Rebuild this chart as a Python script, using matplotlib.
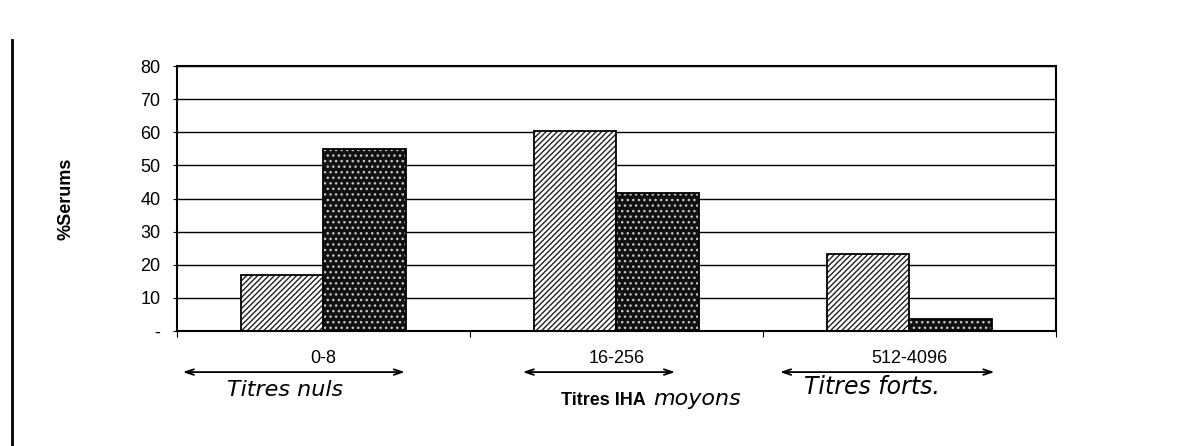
import numpy as np
import matplotlib
matplotlib.use("Agg")
import matplotlib.pyplot as plt
from matplotlib.lines import Line2D

# donnees
categories = ["0-8", "16-256", "512-4096"]
serie_hachuree = [17, 60.5, 23.3]
serie_sombre = [55, 41.7, 3.6]
yticks = [0, 10, 20, 30, 40, 50, 60, 70, 80]
ytick_labels = ["-", "10", "20", "30", "40", "50", "60", "70", "80"]

plt.rcParams['font.family'] = ['Liberation Sans', 'DejaVu Sans']
plt.rcParams['hatch.linewidth'] = 1.0

fig = plt.figure(figsize=(11.94, 4.46), dpi=100)
ax = fig.add_axes([0.1482, 0.2578, 0.7362, 0.594])

x = np.arange(len(categories))
w = 0.283

# grille horizontale
for v in yticks[1:]:
    ax.axhline(v, color='black', lw=1.0, zorder=1)

# serie hachuree
ax.bar(x - w / 2, serie_hachuree, w, color='white', edgecolor='#222222',
       hatch='//////', lw=0, zorder=2)
ax.bar(x - w / 2, serie_hachuree, w, color='none', edgecolor='black',
       lw=1.3, zorder=3)

# serie sombre (grain)
ax.bar(x + w / 2, serie_sombre, w, color='#111111', edgecolor='#c8c8c8',
       hatch='...', lw=0, zorder=2)
ax.bar(x + w / 2, serie_sombre, w, color='none', edgecolor='black',
       lw=1.3, zorder=3)

ax.set_xlim(-0.5, 2.5)
ax.set_ylim(0, 80)
ax.set_yticks(yticks)
ax.set_yticklabels(ytick_labels, fontsize=13)
ax.tick_params(axis='y', length=3, width=0.8, pad=9)

ax.set_xticks(x)
ax.set_xticklabels(categories, fontsize=13)
ax.tick_params(axis='x', length=0, pad=14)
ax.set_xticks([-0.5, 0.5, 1.5, 2.5], minor=True)
ax.tick_params(axis='x', which='minor', length=4, width=0.8, direction='out')

for s in ax.spines.values():
    s.set_linewidth(1.5)

ax.set_ylabel("%Serums", fontsize=13, fontweight='bold')
ax.yaxis.set_label_coords(-0.116, 0.5)

# fleches dessinees a la main sous les categories
fleches = [(-0.48, 0.278), (0.68, 1.20), (1.558, 2.29)]
for a, b in fleches:
    ax.annotate("", xy=(a, -0.155), xytext=(b, -0.155),
                xycoords=('data', 'axes fraction'),
                textcoords=('data', 'axes fraction'),
                arrowprops=dict(arrowstyle='<->,head_length=0.6,head_width=0.2',
                                lw=1.3, color='black', shrinkA=0, shrinkB=0),
                annotation_clip=False)

tr = ax.get_xaxis_transform()
ax.text(-0.131, -0.223, "Titres nuls", transform=tr, ha='center', va='center',
        fontsize=16, style='italic', family='DejaVu Sans')
ax.text(0.954, -0.264, "Titres IHA", transform=tr, ha='center', va='center',
        fontsize=13, fontweight='bold')
ax.text(1.275, -0.255, "moyons", transform=tr, ha='center', va='center',
        fontsize=16, style='italic', family='DejaVu Sans')
ax.text(1.872, -0.211, "Titres forts.", transform=tr, ha='center', va='center',
        fontsize=17, style='italic', family='DejaVu Sans')

# trait vertical de bord de page
fig.add_artist(Line2D([12 / 1194, 12 / 1194], [0, 406 / 446],
                      color='black', lw=2))

fig.savefig("out.png", dpi=100)
